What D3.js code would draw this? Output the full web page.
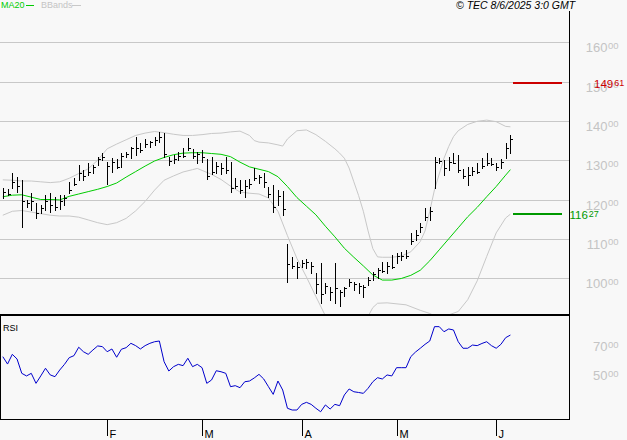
<!DOCTYPE html>
<html>
<head>
<meta charset="utf-8">
<script src="https://cdn.jsdelivr.net/npm/d3@7/dist/d3.min.js"></script>
<style>
  body { margin: 0; background: #f8f8f8; }
  svg { display: block; font-family: 'Liberation Sans', Arial, sans-serif; }
</style>
</head>
<body>
<svg id="chart" width="627" height="440"></svg>
<script>
// daily bars, one entry per trading day (Jan 2 .. Jun 5)
const highs = [
  122.8, 122.7, 126.8, 125.8, 125.0, 119.9, 121.6, 119.0, 118.6, 121.1,
  121.6, 120.7, 121.1, 121.1, 124.5, 125.4, 128.8, 127.5, 129.2, 128.8,
  130.9, 131.9, 129.6, 130.5, 130.2, 131.9, 132.2, 133.4, 135.8, 134.3,
  135.3, 135.0, 136.0, 137.3, 136.8, 130.9, 131.3, 132.2, 133.0, 135.6,
  132.8, 132.2, 132.6, 130.2, 130.7, 129.6, 129.2, 130.9, 129.6, 125.4,
  125.0, 125.0, 125.1, 127.9, 126.2, 126.7, 123.3, 123.7, 122.4, 122.2,
  108.8, 105.4, 104.2, 104.6, 104.8, 104.2, 101.2, 103.8, 98.8, 97.8,
  103.8, 97.0, 97.8, 99.7, 99.1, 98.7, 98.2, 100.4, 101.6, 102.5,
  104.2, 104.0, 105.9, 106.3, 106.7, 107.2, 111.4, 112.2, 113.9, 117.8,
  118.2, 130.9, 130.5, 130.0, 130.9, 131.8, 131.3, 127.7, 128.3, 128.3,
  129.2, 130.5, 131.9, 130.5, 129.2, 130.2, 134.3, 136.4,
];
const lows = [
  120.4, 121.2, 122.9, 122.0, 112.9, 118.2, 117.3, 115.2, 116.5, 117.3,
  116.9, 117.3, 117.5, 118.6, 121.6, 123.7, 125.0, 125.0, 126.2, 126.7,
  128.8, 130.0, 124.0, 127.1, 128.0, 128.3, 130.9, 130.5, 131.3, 132.2,
  133.4, 133.4, 133.9, 134.7, 130.9, 128.8, 129.2, 130.0, 130.9, 132.6,
  130.5, 129.2, 129.6, 125.1, 126.5, 126.7, 126.5, 126.8, 122.0, 122.9,
  121.7, 120.7, 122.9, 125.0, 124.1, 123.3, 120.6, 116.9, 118.6, 116.0,
  99.1, 102.5, 100.0, 102.9, 102.5, 101.2, 96.3, 93.6, 96.1, 94.4,
  93.7, 92.9, 95.4, 98.0, 97.0, 96.1, 95.3, 98.2, 99.5, 100.0,
  101.6, 101.4, 102.5, 103.8, 104.6, 105.0, 108.8, 109.7, 111.8, 114.8,
  114.8, 122.9, 129.2, 126.2, 127.5, 129.2, 127.1, 125.4, 123.7, 126.2,
  126.7, 128.0, 128.8, 128.8, 127.5, 128.0, 130.5, 131.9,
];
const closes = [
  122.0, 121.4, 124.5, 123.5, 119.5, 119.0, 119.5, 116.5, 117.8, 119.5,
  118.5, 118.2, 119.5, 120.5, 122.5, 124.0, 126.8, 126.0, 127.0, 128.2,
  130.2, 130.8, 128.5, 129.5, 128.3, 131.0, 131.6, 133.0, 133.0, 132.6,
  134.2, 134.6, 135.2, 136.0, 131.5, 129.8, 130.3, 131.0, 131.0, 133.2,
  131.0, 131.5, 130.8, 126.0, 127.0, 128.5, 128.0, 127.5, 123.0, 123.5,
  122.5, 123.5, 124.0, 125.5, 125.8, 124.5, 121.5, 118.0, 121.0, 117.5,
  103.5, 103.0, 102.8, 103.8, 104.2, 103.0, 98.5, 96.0, 98.0, 96.5,
  97.5, 96.5, 97.5, 99.0, 98.5, 98.0, 97.8, 99.5, 101.0, 102.0,
  101.9, 103.0, 102.8, 105.5, 105.5, 105.6, 109.5, 111.0, 113.0, 115.5,
  117.0, 129.5, 129.8, 128.0, 129.5, 129.4, 127.5, 126.0, 126.3, 127.2,
  127.0, 128.5, 129.3, 129.0, 128.2, 129.5, 133.0, 135.5,
];
const rsiValues = [
  59.2, 54.1, 60.8, 57.6, 47.7, 45.9, 47.7, 40.8, 45.9, 51.2,
  46.6, 45.4, 50.0, 53.9, 58.5, 59.9, 65.7, 62.6, 60.8, 63.8,
  66.6, 66.1, 62.6, 64.5, 58.8, 64.3, 65.4, 68.4, 66.8, 64.5,
  66.8, 68.4, 69.5, 70.0, 55.7, 49.3, 52.3, 53.9, 53.0, 58.1,
  52.3, 53.9, 51.6, 40.8, 43.1, 49.5, 48.8, 47.7, 38.5, 39.2,
  37.8, 41.9, 42.4, 44.5, 47.0, 43.8, 38.5, 33.2, 42.4, 36.2,
  23.6, 22.4, 22.4, 26.3, 27.7, 26.3, 23.6, 21.2, 25.9, 23.1,
  26.3, 25.4, 32.8, 36.9, 35.0, 34.5, 33.9, 37.4, 41.9, 44.7,
  43.8, 46.6, 45.9, 51.6, 51.6, 51.6, 59.2, 62.4, 65.0, 67.7,
  70.0, 79.9, 79.9, 76.4, 78.3, 77.6, 69.5, 65.0, 65.0, 67.2,
  66.8, 68.3, 69.5, 66.8, 65.0, 67.7, 72.3, 74.1,
];

// indicator lines at every other day
const maDays = [0, 2, 4, 6, 8, 10, 12, 14, 16, 18, 20, 22, 24, 26, 28, 30, 32, 34, 36, 38,
  40, 42, 44, 46, 48, 50, 52, 54, 56, 58, 60, 62, 64, 66, 68, 70, 72, 74, 76, 78,
  80, 82, 84, 86, 88, 90, 92, 94, 96, 98, 100, 102, 104, 106, 107];
const maValues = [120.7, 121.1, 121.2, 120.6, 120.0, 120.0, 119.9, 120.8, 121.4, 122.0,
  122.6, 123.3, 124.2, 125.7, 127.1, 128.5, 129.8, 130.7, 131.4, 131.8,
  131.9, 131.9, 131.7, 131.5, 130.9, 129.5, 128.3, 127.7, 127.1, 125.8,
  123.3, 120.5, 118.3, 116.1, 113.2, 110.5, 107.6, 105.3, 103.1, 100.8,
  99.5, 99.5, 99.9, 100.7, 102.0, 104.4, 107.2, 110.0, 112.8, 115.6,
  118.0, 120.7, 123.3, 126.2, 127.6];

const upperDays = [0, 2, 4, 6, 8, 10, 12, 14, 16, 18, 20, 22, 24, 26, 28, 30, 32, 34, 36, 38,
  40, 42, 44, 46, 48, 50, 52, 53, 54, 56, 58, 59, 60, 62, 64, 66, 68, 70, 71, 72,
  73, 74, 75, 76, 77, 78, 79, 80, 82, 84, 86, 88, 89, 90, 91, 92, 93, 94, 95, 96,
  98, 100, 102, 104, 106, 107];
const upperValues = [125.0, 124.9, 124.7, 124.7, 124.5, 124.3, 124.5, 125.4, 126.6, 127.8,
  130.0, 132.9, 134.1, 135.2, 136.3, 136.9, 137.3, 137.0, 136.6, 136.3,
  136.3, 136.5, 136.8, 136.9, 137.2, 137.4, 136.3, 135.0, 134.6, 134.4,
  133.9, 133.6, 135.4, 137.5, 137.7, 136.5, 134.8, 132.9, 131.8, 130.5,
  128.0, 124.5, 121.0, 117.0, 112.0, 107.5, 105.4, 105.3, 105.3, 105.6,
  106.7, 109.3, 112.0, 117.0, 122.5, 126.5, 130.5, 133.5, 136.0, 137.5,
  139.1, 139.9, 140.2, 139.8, 138.6, 138.5];

const lowerDays = [0, 2, 4, 6, 8, 10, 12, 14, 16, 18, 20, 22, 24, 26, 28, 30, 32, 34, 36, 38,
  40, 41, 42, 44, 46, 48, 50, 52, 54, 56, 58, 60, 62, 64, 66, 68, 70, 73, 76, 78,
  79, 81, 85, 88, 90, 92, 96, 98, 100, 102, 104, 106, 107];
const lowerValues = [116.0, 117.0, 117.2, 116.8, 116.4, 116.0, 115.8, 115.8, 115.5, 114.8,
  114.1, 113.6, 114.1, 115.2, 117.1, 119.5, 122.4, 124.9, 126.0, 127.0,
  127.6, 127.9, 127.4, 126.4, 125.1, 123.4, 121.9, 121.6, 121.4, 120.4,
  117.0, 110.8, 105.0, 100.3, 95.3, 90.4, 86.8, 85.5, 88.1, 92.5,
  93.6, 93.7, 93.2, 91.8, 91.0, 89.8, 91.5, 94.5, 99.3, 105.5,
  111.5, 115.3, 116.27];

const priceTicks = [100, 110, 120, 130, 140, 150, 160];
const rsiTicks = [50, 70];
const monthLabels = ['F', 'M', 'A', 'M', 'J'];
const monthStartDays = [22, 42, 63, 83, 104];
const levelHigh = 149.61;
const levelLow = 116.27;

const svg = d3.select('#chart');
const W = 627;
const panelRight = 569;

const x = d3.scaleLinear().domain([0, 107]).range([2.8, 2.8 + 107 * 4.744]);
const y = d3.scaleLinear().domain([100, 160]).range([278.1, 42.3]);
const yRsi = d3.scaleLinear().domain([50, 70]).range([370, 341]);

const px = v => Math.round(v) + 0.5;

svg.append('rect').attr('width', W).attr('height', 440).attr('fill', '#f8f8f8');

// clip areas for the two panels
const defs = svg.append('defs');
defs.append('clipPath').attr('id', 'clipMain')
  .append('rect').attr('x', 0).attr('y', 11).attr('width', panelRight).attr('height', 303);
defs.append('clipPath').attr('id', 'clipRsi')
  .append('rect').attr('x', 0).attr('y', 316).attr('width', panelRight).attr('height', 103);

// horizontal grid
svg.append('g')
  .selectAll('line')
  .data(priceTicks)
  .join('line')
  .attr('x1', 0)
  .attr('x2', panelRight)
  .attr('y1', d => px(y(d)))
  .attr('y2', d => px(y(d)))
  .attr('stroke', '#c8c8c8')
  .attr('shape-rendering', 'crispEdges');

// price axis labels with small decimals
const labelG = svg.append('g').attr('fill', '#c4c4c4');
priceTicks.forEach(t => {
  const gy = y(t);
  labelG.append('text').attr('x', 607.5).attr('y', gy + 10).attr('text-anchor', 'end')
    .attr('font-size', 13).text(t);
  labelG.append('text').attr('x', 608).attr('y', gy + 6.5).attr('font-size', 9.5).text('00');
});
rsiTicks.forEach(t => {
  const gy = yRsi(t);
  labelG.append('text').attr('x', 607.5).attr('y', gy + 10).attr('text-anchor', 'end')
    .attr('font-size', 13).text(t);
  labelG.append('text').attr('x', 608).attr('y', gy + 6.5).attr('font-size', 9.5).text('00');
});

const main = svg.append('g').attr('clip-path', 'url(#clipMain)');

const curve = d3.line()
  .x(d => x(d[0]))
  .y(d => y(d[1]));

const bandGroup = main.append('g').attr('fill', 'none').attr('stroke-width', 1);
bandGroup.append('path')
  .attr('d', curve(d3.zip(upperDays, upperValues)))
  .attr('stroke', '#c8c8c8');
bandGroup.append('path')
  .attr('d', curve(d3.zip(lowerDays, lowerValues)))
  .attr('stroke', '#c8c8c8');
bandGroup.append('path')
  .attr('d', curve(d3.zip(maDays, maValues)))
  .attr('stroke', '#00cc00');

// HLC bars
const bars = main.append('g')
  .attr('stroke', '#000')
  .attr('shape-rendering', 'crispEdges')
  .selectAll('g')
  .data(closes.map((c, i) => ({ i, h: highs[i], l: lows[i], c })))
  .join('g');

bars.append('line')
  .attr('x1', d => px(x(d.i)))
  .attr('x2', d => px(x(d.i)))
  .attr('y1', d => Math.round(y(d.h)))
  .attr('y2', d => Math.round(y(d.l)) + 1);

bars.append('line')
  .attr('x1', d => Math.round(x(d.i)) + 1)
  .attr('x2', d => Math.round(x(d.i)) + 3)
  .attr('y1', d => px(y(d.c)))
  .attr('y2', d => px(y(d.c)));

// level markers
[[levelHigh, '#cc0000', 594], [levelLow, '#009900', 569.5]].forEach(([v, color, lx]) => {
  const ly = y(v);
  svg.append('line')
    .attr('x1', 513).attr('x2', 562)
    .attr('y1', Math.round(ly)).attr('y2', Math.round(ly))
    .attr('stroke', color).attr('stroke-width', 2);
  const parts = v.toFixed(2).split('.');
  const t = svg.append('text').attr('x', lx).attr('y', ly + 4.5).attr('fill', color)
    .attr('font-size', 11.5).text(parts[0]);
  const w = t.node().getComputedTextLength();
  svg.append('text').attr('x', lx + w + 1).attr('y', ly + 3).attr('fill', color)
    .attr('font-size', 9).text(parts[1]);
});

// frame lines
svg.append('line').attr('x1', px(panelRight)).attr('x2', px(panelRight))
  .attr('y1', 11).attr('y2', 420).attr('stroke', '#000');
svg.append('rect').attr('x', 0).attr('y', 314).attr('width', panelRight + 1).attr('height', 2)
  .attr('fill', '#000');
svg.append('line').attr('x1', 0).attr('x2', panelRight + 1)
  .attr('y1', 419.5).attr('y2', 419.5).attr('stroke', '#000');
svg.append('line').attr('x1', 0.5).attr('x2', 0.5)
  .attr('y1', 316).attr('y2', 420).attr('stroke', '#000');

// RSI panel
const rsiLine = d3.line()
  .x((d, i) => x(i))
  .y(d => yRsi(d));

svg.append('g').attr('clip-path', 'url(#clipRsi)')
  .append('path')
  .attr('d', rsiLine(rsiValues))
  .attr('fill', 'none')
  .attr('stroke', '#0000cc')
  .attr('stroke-width', 1);

svg.append('text').attr('x', 3).attr('y', 331).attr('font-size', 9).attr('fill', '#000').text('RSI');

// month ticks
const months = svg.append('g')
  .selectAll('g')
  .data(monthStartDays)
  .join('g')
  .attr('transform', d => `translate(${px(x(d))},0)`);
months.append('line').attr('y1', 420).attr('y2', 436).attr('stroke', '#000');
months.append('text')
  .attr('x', 2)
  .attr('y', 437.5)
  .attr('font-size', 11)
  .text((d, i) => monthLabels[i]);

// header legend
svg.append('text').attr('x', 1).attr('y', 8).attr('font-size', 9).attr('fill', '#00cc00').text('MA20');
svg.append('line').attr('x1', 26).attr('x2', 34).attr('y1', 5.5).attr('y2', 5.5).attr('stroke', '#00cc00');
svg.append('text').attr('x', 41).attr('y', 8).attr('font-size', 9).attr('fill', '#c4c4c4').text('BBands');
svg.append('line').attr('x1', 72).attr('x2', 81).attr('y1', 5.5).attr('y2', 5.5).attr('stroke', '#c8c8c8');

svg.append('text')
  .attr('x', 456)
  .attr('y', 8.5)
  .attr('font-size', 10.5)
  .attr('font-style', 'italic')
  .attr('fill', '#000')
  .text('\u00a9 TEC 8/6/2025 3:0 GMT');
</script>
</body>
</html>
